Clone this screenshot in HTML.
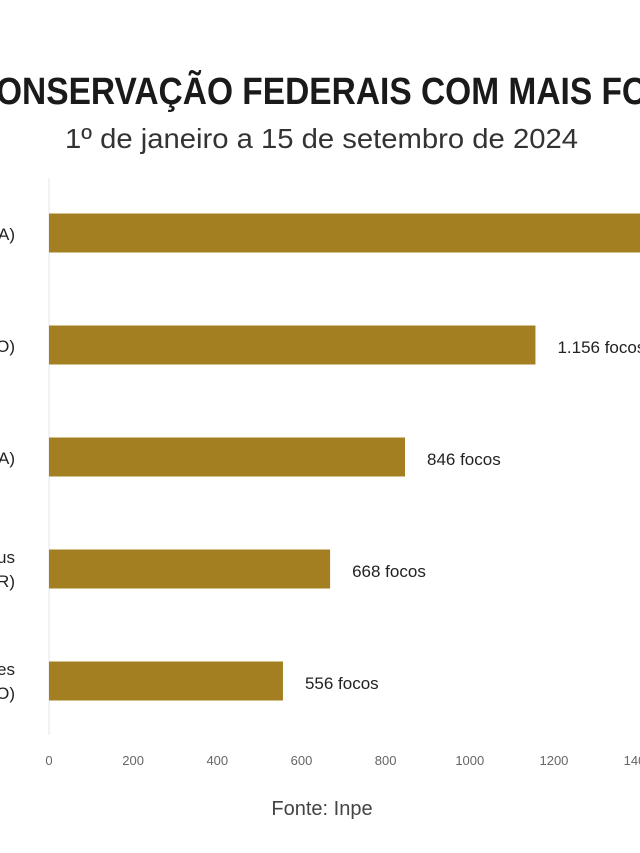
<!DOCTYPE html>
<html><head><meta charset="utf-8"><style>
html,body{margin:0;padding:0;background:#fff;width:640px;height:853px;overflow:hidden}
svg{display:block;font-family:"Liberation Sans",sans-serif}
</style></head><body>
<svg id="chart" width="640" height="853">
<text x="-4" y="104" font-size="38" font-weight="bold" fill="#1a1a1a" textLength="652" lengthAdjust="spacingAndGlyphs">ONSERVAÇÃO FEDERAIS COM MAIS FO</text>
<text x="65" y="148" font-size="28" fill="#333" textLength="513" lengthAdjust="spacingAndGlyphs">1º de janeiro a 15 de setembro de 2024</text>
<line x1="49" y1="178" x2="49" y2="735" stroke="#e6e6e6"/>
<g id="bars"></g>
<g id="ticks"></g>
<text x="322" y="815" font-size="20" fill="#444" text-anchor="middle">Fonte: Inpe</text>
</svg>
<script>
const categories=["A)","O)","A)","us|R)","es|O)"];
const values=[1600,1156,846,668,556];
const valueLabels=["1.600 focos","1.156 focos","846 focos","668 focos","556 focos"];
const ticks=[0,200,400,600,800,1000,1200,1400];
const x=v=>49+v*0.4208;
const yc=i=>233+i*112;
const ns="http://www.w3.org/2000/svg";
const bars=document.getElementById('bars'),tg=document.getElementById('ticks');
function mk(tag,attrs,parent){const e=document.createElementNS(ns,tag);for(const k in attrs)e.setAttribute(k,attrs[k]);parent.appendChild(e);return e;}
values.forEach((v,i)=>{
  const r=mk('rect',{x:x(0),y:yc(i)-19.5,width:x(v)-x(0),height:39,fill:'#a47f22'},bars);
  
  
  const t=mk('text',{x:x(v)+22,y:yc(i)+8,'font-size':17,fill:'#222'},bars);
  t.textContent=valueLabels[i];
  
  
  const parts=categories[i].split('|');
  parts.forEach((p,j)=>{
    const c=mk('text',{x:15,y:yc(i)+7+(parts.length>1?(j===0?-13:11):0),'font-size':17,fill:'#222','text-anchor':'end'},bars);
    c.textContent=p;
    
    
  });
});
ticks.forEach(v=>{
  const t=mk('text',{x:x(v),y:765,'font-size':13,fill:'#666','text-anchor':'middle'},tg);
  t.textContent=v;
  
  
});
</script>
</body></html>
